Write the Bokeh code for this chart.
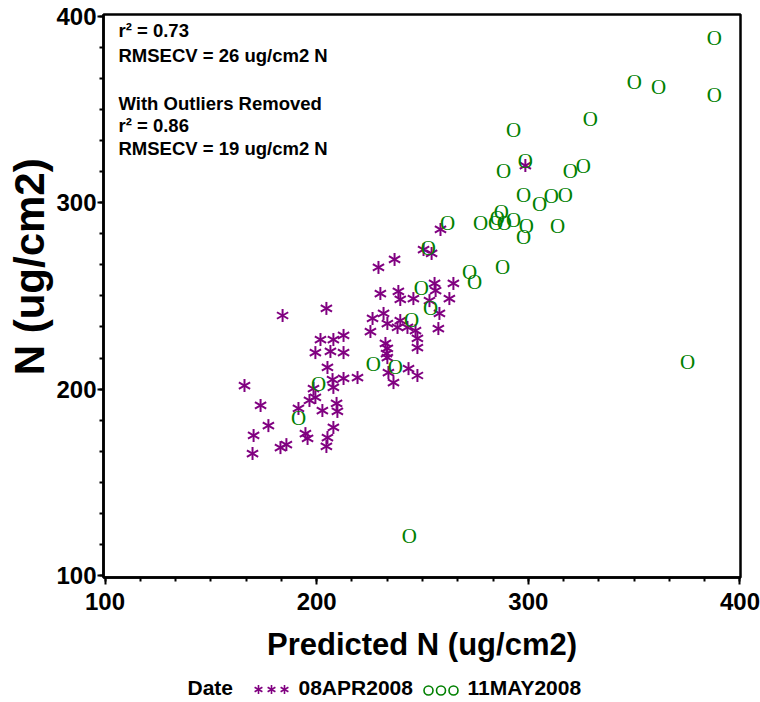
import math
from bokeh.plotting import figure
from bokeh.layouts import column
from bokeh.models import Range1d, SingleIntervalTicker, Label, ColumnDataSource
from bokeh.core.properties import value
from bokeh.embed import file_html
from bokeh.resources import INLINE

# ---- data: 08APR2008 (purple asterisks) ----
apr_pred = [258.5, 250.5, 254.3, 236.8, 229.2, 255.7, 256.2, 264.6, 262.7, 253.3,
            258.0, 257.5, 230.1, 238.6, 239.5, 245.7, 204.6, 231.6, 226.4, 225.4,
            239.5, 238.2, 233.4, 242.9, 246.7, 247.6, 247.6, 232.5, 233.4, 233.0,
            201.8, 207.9, 212.7, 199.4, 206.5, 212.7, 205.1, 233.4, 233.9, 236.3,
            243.4, 247.6, 219.3, 212.7, 207.5, 207.9, 198.5, 183.9, 165.9, 173.5,
            191.4, 177.2, 170.2, 169.7, 182.9, 185.7, 194.7, 195.7, 196.6, 298.6,
            199.4, 202.7, 209.4, 209.8, 207.9, 205.1, 204.6]
apr_obs = [285.7, 274.9, 272.8, 269.6, 265.3, 256.7, 252.9, 256.7, 248.6, 247.5,
           240.6, 232.5, 251.3, 252.4, 248.1, 248.6, 243.3, 240.6, 237.9, 230.9,
           236.8, 233.1, 235.2, 233.1, 231.4, 227.2, 222.3, 224.5, 221.8, 219.1,
           226.6, 226.6, 228.8, 219.6, 220.2, 219.6, 211.6, 216.9, 208.9, 203.5,
           211.0, 207.3, 206.2, 205.7, 205.1, 200.9, 200.3, 239.5, 201.9, 191.2,
           189.6, 180.4, 175.1, 165.4, 168.6, 170.2, 176.1, 173.5, 193.9, 320.0,
           195.5, 188.5, 192.3, 188.0, 179.4, 174.0, 169.2]

# ---- data: 11MAY2008 (green O) ----
may_pred = [387.9, 350.1, 361.5, 387.9, 329.3, 293.0, 298.6, 288.3, 319.9, 326.0,
            297.7, 305.3, 310.9, 317.5, 285.4, 287.3, 288.7, 293.0, 284.5, 299.1,
            297.7, 313.8, 287.8, 375.2, 277.4, 274.6, 272.2, 261.8, 252.8, 249.5,
            253.8, 244.8, 226.8, 237.2, 200.9, 191.4, 243.8]
may_obs = [388.7, 365.1, 361.9, 357.6, 345.2, 339.3, 322.2, 317.3, 316.8, 319.5,
           304.4, 299.1, 303.9, 304.4, 292.1, 294.8, 289.4, 290.5, 288.9, 287.3,
           281.4, 287.8, 265.3, 214.8, 289.4, 257.7, 262.6, 289.4, 276.0, 254.0,
           243.3, 237.3, 213.7, 211.6, 203.0, 184.7, 121.4]

stats_lines = ["r\u00b2 = 0.73", "RMSECV = 26 ug/cm2 N",
               "With Outliers Removed", "r\u00b2 = 0.86", "RMSECV = 19 ug/cm2 N"]
x_title = "Predicted N (ug/cm2)"
y_title = "N (ug/cm2)"
legend_title = "Date"
series_names = ["08APR2008", "11MAY2008"]

PURPLE = "#800080"
GREEN = "#008000"
FONT = "Liberation Sans"

p = figure(width=760, height=672,
           x_range=Range1d(99.29, 400.24), y_range=Range1d(98.87, 401.07),
           output_backend="svg", toolbar_location=None,
           min_border_left=103, min_border_right=20,
           min_border_top=14, min_border_bottom=95)
p.background_fill_color = "white"
p.border_fill_color = "white"
p.xgrid.visible = False
p.ygrid.visible = False
p.outline_line_color = "black"
p.outline_line_width = 2.5

for ax in (p.xaxis[0], p.yaxis[0]):
    ax.ticker = SingleIntervalTicker(interval=100, num_minor_ticks=6)
    ax.axis_line_width = 2.5
    ax.axis_line_color = "black"
    ax.major_tick_line_width = 2
    ax.minor_tick_line_width = 2
    ax.major_tick_in = 0
    ax.minor_tick_out = 4
    ax.minor_tick_in = 0
    ax.major_label_text_font = FONT
    ax.major_label_text_font_style = "bold"
    ax.major_label_text_font_size = "24px"
    ax.major_label_text_color = "black"
    ax.axis_label_text_font = FONT
    ax.axis_label_text_font_style = "bold"
    ax.axis_label_text_color = "black"

xa = p.xaxis[0]
xa.major_tick_out = 7
xa.major_label_standoff = 8
xa.axis_label = x_title
xa.axis_label_text_font_size = "31px"
xa.axis_label_standoff = 14

ya = p.yaxis[0]
ya.major_tick_out = 6
ya.major_label_standoff = 1
ya.axis_label = "\u00a0" * 5 + y_title
ya.axis_label_text_font_size = "42px"
ya.axis_label_standoff = 0

src_apr = ColumnDataSource(dict(x=apr_pred, y=apr_obs))
src_may = ColumnDataSource(dict(x=may_pred, y=may_obs, t=["O"] * len(may_pred)))

for ang in (math.pi / 2, math.pi / 6, -math.pi / 6):
    p.scatter("x", "y", source=src_apr, marker="dash", size=13, angle=ang,
              line_color=PURPLE, line_width=2)

p.text("x", "y", text="t", source=src_may, text_font=value("Liberation Serif"),
       text_font_size="21px", text_color=GREEN, text_align="center",
       text_baseline="middle")

# stats text (frame-relative screen units)
for txt, yy in zip(stats_lines, [546.7, 521.7, 474.0, 451.7, 429.0]):
    p.add_layout(Label(x=15, y=yy, x_units="screen", y_units="screen", text=txt,
                       text_font=FONT, text_font_style="bold", text_font_size="18.5px",
                       text_color="black", text_align="left", text_baseline="alphabetic"))

# ---- legend strip below the plot (its frame is aligned with the plot frame) ----
leg = figure(width=760, height=30, x_range=Range1d(103, 740), y_range=Range1d(0, 30),
             x_axis_location=None, y_axis_location=None, min_border=0,
             output_backend="svg", toolbar_location=None)
leg.outline_line_color = None
leg.background_fill_color = "white"
leg.border_fill_color = "white"
leg.grid.visible = False

leg_text = ColumnDataSource(dict(x=[187, 298, 467], y=[15, 15, 15],
                                 t=[legend_title, series_names[0], series_names[1]],
                                 s=["21px", "21px", "21px"]))
leg.text("x", "y", text="t", source=leg_text, text_font=value(FONT),
         text_font_style="bold", text_font_size="s", text_color="black",
         text_align="left", text_baseline="middle")

sym_apr = ColumnDataSource(dict(x=[258, 271, 284], y=[13, 13, 13]))
for ang in (math.pi / 2, math.pi / 6, -math.pi / 6):
    leg.scatter("x", "y", source=sym_apr, marker="dash", size=9, angle=ang,
                line_color=PURPLE, line_width=1.6)
sym_may = ColumnDataSource(dict(x=[428, 440.5, 453], y=[12, 12, 12]))
leg.scatter("x", "y", source=sym_may, marker="circle", size=9, fill_color=None,
            line_color=GREEN, line_width=1.6)

layout = column(p, leg, spacing=0)
open("out.html", "w").write(file_html(layout, INLINE))
